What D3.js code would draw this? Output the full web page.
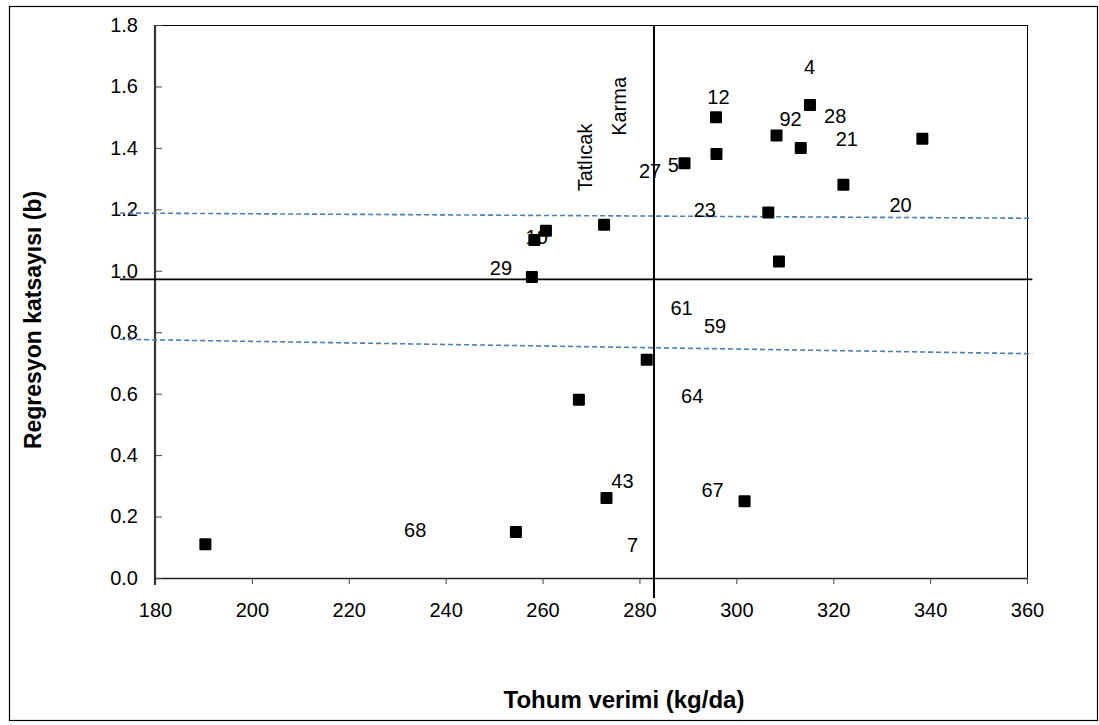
<!DOCTYPE html>
<html>
<head>
<meta charset="utf-8">
<script src="https://cdn.jsdelivr.net/npm/d3@7"></script>
<style>
  body { margin: 0; background: #fff; }
  svg { display: block; font-family: "Liberation Sans", Arial, sans-serif; }
</style>
</head>
<body>
<svg id="chart"></svg>
<script>
// genotype points: seed yield (kg/da) and regression coefficient (b)
const yieldValues = [190.4, 254.5, 257.8, 258.3, 260.7, 267.5, 272.7, 273.2, 281.5, 289.3,
                     295.8, 295.9, 301.7, 306.6, 308.3, 308.8, 313.3, 315.2, 322.1, 338.4];
const bValues     = [0.11, 0.15, 0.98, 1.10, 1.13, 0.58, 1.15, 0.26, 0.71, 1.35,
                     1.50, 1.38, 0.25, 1.19, 1.44, 1.03, 1.40, 1.54, 1.28, 1.43];

// loose text labels placed in data units (as in the original)
const labelText = ['4', '12', '92', '28', '21', '20', '27', '5', '23', '10', '29',
                   '61', '59', '64', '43', '67', '7', '68'];
const labelX    = [315.1, 296.3, 311.2, 320.4, 322.8, 333.9, 282.2, 287.0, 293.5, 258.8, 251.4,
                   288.7, 295.6, 290.9, 276.5, 295.1, 278.6, 233.7];
const labelY    = [1.664, 1.567, 1.496, 1.504, 1.428, 1.214, 1.325, 1.344, 1.198, 1.111, 1.011,
                   0.878, 0.820, 0.593, 0.316, 0.286, 0.107, 0.156];

// vertical labels for the two reference groups
const groupText = ['Tatlıcak', 'Karma'];
const groupX    = [270.2, 277.2];
const groupY    = [1.369, 1.535];

const xTicks = [180, 200, 220, 240, 260, 280, 300, 320, 340, 360];
const yTicks = [0.0, 0.2, 0.4, 0.6, 0.8, 1.0, 1.2, 1.4, 1.6, 1.8];

// mean lines and confidence band
const meanYield = 283;
const meanB = 0.972;
const bandUpper = [1.188, 1.171];
const bandLower = [0.777, 0.730];
const lineFrom = 172.8, lineTo = 361.1;
const meanYieldLineBottom = -0.065;

const width = 1099;
const height = 725;
const plotLeft = 155, plotRight = 1027, plotTop = 25, plotBottom = 578;

const svg = d3.select('#chart')
    .attr('width', width)
    .attr('height', height);

const x = d3.scaleLinear().domain([180, 360]).range([plotLeft, plotRight]);
const y = d3.scaleLinear().domain([0, 1.8]).range([plotBottom, plotTop]);

// outer frame
svg.append('rect')
    .attr('x', 9.5).attr('y', 6.5)
    .attr('width', 1088).attr('height', 714)
    .attr('fill', 'none').attr('stroke', '#000').attr('stroke-width', 1.2);

// plot frame top / right
svg.append('line')
    .attr('x1', plotLeft).attr('x2', plotRight).attr('y1', plotTop + 0.5).attr('y2', plotTop + 0.5)
    .attr('stroke', '#000').attr('stroke-width', 1);
svg.append('line')
    .attr('x1', plotRight + 0.5).attr('x2', plotRight + 0.5).attr('y1', plotTop).attr('y2', plotBottom)
    .attr('stroke', '#000').attr('stroke-width', 1);

// axes
const xAxis = d3.axisBottom(x)
    .tickValues(xTicks)
    .tickFormat(d3.format('d'))
    .tickSizeInner(6)
    .tickSizeOuter(0)
    .tickPadding(19);

const yAxis = d3.axisLeft(y)
    .tickValues(yTicks)
    .tickFormat(d3.format('.1f'))
    .tickSizeInner(-7)
    .tickSizeOuter(0)
    .tickPadding(17);

const gx = svg.append('g')
    .attr('transform', 'translate(0,' + plotBottom + ')')
    .call(xAxis);
gx.select('.domain').attr('stroke', '#222').attr('stroke-width', 1.5);
gx.selectAll('.tick line').attr('stroke', '#444');
gx.selectAll('text').attr('font-size', 20).attr('fill', '#000');

const gy = svg.append('g')
    .attr('transform', 'translate(' + plotLeft + ',0)')
    .call(yAxis);
gy.select('.domain').remove();
gy.selectAll('.tick line').attr('stroke', '#444');
gy.selectAll('text').attr('font-size', 20).attr('fill', '#000');

svg.append('line')
    .attr('x1', plotLeft).attr('x2', plotLeft)
    .attr('y1', y(1.8)).attr('y2', y(0) + 7)
    .attr('stroke', '#333').attr('stroke-width', 2.2);

// confidence band (dashed)
[bandUpper, bandLower].forEach(function(b) {
    svg.append('line')
        .attr('x1', x(lineFrom)).attr('x2', x(lineTo))
        .attr('y1', y(b[0])).attr('y2', y(b[1]))
        .attr('stroke', '#4a7ebb')
        .attr('stroke-width', 1.6)
        .attr('stroke-dasharray', '5,3');
});

// mean lines
svg.append('line')
    .attr('x1', x(lineFrom)).attr('x2', x(lineTo))
    .attr('y1', y(meanB)).attr('y2', y(meanB))
    .attr('stroke', '#000').attr('stroke-width', 1.6);

svg.append('line')
    .attr('x1', x(meanYield)).attr('x2', x(meanYield))
    .attr('y1', y(1.8)).attr('y2', y(meanYieldLineBottom))
    .attr('stroke', '#000').attr('stroke-width', 2);

// text labels (drawn under the markers)
svg.selectAll('text.lbl')
    .data(labelText)
    .enter()
    .append('text')
    .attr('class', 'lbl')
    .attr('x', (d, i) => x(labelX[i]))
    .attr('y', (d, i) => y(labelY[i]))
    .attr('dy', '0.36em')
    .attr('text-anchor', 'middle')
    .attr('font-size', 20)
    .text(d => d);

svg.selectAll('text.grp')
    .data(groupText)
    .enter()
    .append('text')
    .attr('class', 'grp')
    .attr('transform', (d, i) => 'translate(' + x(groupX[i]) + ',' + y(groupY[i]) + ') rotate(-90)')
    .attr('text-anchor', 'middle')
    .attr('font-size', 20)
    .text(d => d);

// markers
const size = 12;
svg.selectAll('rect.pt')
    .data(yieldValues)
    .enter()
    .append('rect')
    .attr('class', 'pt')
    .attr('x', d => x(d) - size / 2)
    .attr('y', (d, i) => y(bValues[i]) - size / 2)
    .attr('width', size)
    .attr('height', size)
    .attr('rx', 1)
    .attr('fill', '#000');

// axis titles
svg.append('text')
    .attr('x', 624)
    .attr('y', 708)
    .attr('text-anchor', 'middle')
    .attr('font-size', 24)
    .attr('font-weight', 'bold')
    .text('Tohum verimi (kg/da)');

svg.append('text')
    .attr('transform', 'translate(41,320) rotate(-90)')
    .attr('text-anchor', 'middle')
    .attr('font-size', 23)
    .attr('font-weight', 'bold')
    .text('Regresyon katsayısı (b)');
</script>
</body>
</html>
